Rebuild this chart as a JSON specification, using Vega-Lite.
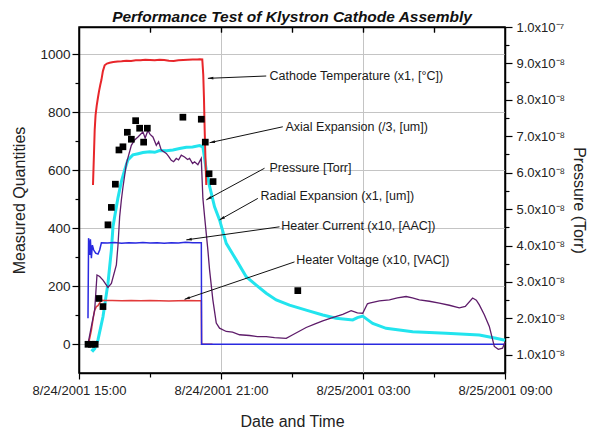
{
  "$schema": "https://vega.github.io/schema/vega-lite/v6.json",
  "width": 426,
  "height": 346,
  "autosize": {"type": "none"},
  "padding": {"left": 79, "top": 27, "right": 88, "bottom": 56},
  "background": "white",
  "title": {"text": "Performance Test of Klystron Cathode Assembly", "font": "Liberation Sans", "fontSize": 15.5, "fontWeight": "bold", "fontStyle": "italic", "color": "#111111", "anchor": "middle", "offset": -4},
  "config": {
    "view": {"stroke": "#000000", "strokeWidth": 1.5},
    "axis": {"labelFont": "Liberation Sans", "titleFont": "Liberation Sans", "titleFontWeight": "normal", "labelColor": "#222222", "titleColor": "#222222", "domainColor": "#000000", "domainWidth": 1.5, "tickColor": "#000000", "tickWidth": 1.2, "labelFlush": false, "labelOverlap": false, "gridColor": "#c4c4c4", "gridWidth": 1}
  },
  "datasets": {
    "meas": [
      {"s":"R","h":15.523,"v":-17},{"s":"R","h":15.591,"v":-22},{"s":"R","h":15.663,"v":-15},{"s":"R","h":15.802,"v":15},{"s":"R","h":16.013,"v":95},{"s":"R","h":16.224,"v":210},{"s":"R","h":16.368,"v":325},{"s":"R","h":16.435,"v":405},{"s":"R","h":16.507,"v":440},{"s":"R","h":16.646,"v":505},{"s":"R","h":16.79,"v":561},{"s":"R","h":16.929,"v":601},{"s":"R","h":17.068,"v":636},{"s":"R","h":17.279,"v":653},{"s":"R","h":17.5,"v":657},{"s":"R","h":17.702,"v":661},{"s":"R","h":17.984,"v":664},{"s":"R","h":18.2,"v":662},{"s":"R","h":18.407,"v":668},{"s":"R","h":18.7,"v":667},{"s":"R","h":18.968,"v":670},{"s":"R","h":19.25,"v":675},{"s":"R","h":19.534,"v":679},{"s":"R","h":19.8,"v":680},{"s":"R","h":20.095,"v":685},{"s":"R","h":20.234,"v":681},{"s":"R","h":20.378,"v":601},{"s":"R","h":20.517,"v":545},{"s":"R","h":20.728,"v":474},{"s":"R","h":20.939,"v":429},{"s":"R","h":21.222,"v":348},{"s":"R","h":21.644,"v":291},{"s":"R","h":22.066,"v":233},{"s":"R","h":22.488,"v":204},{"s":"R","h":22.911,"v":176},{"s":"R","h":23.333,"v":153},{"s":"R","h":23.894,"v":135},{"s":"R","h":24.599,"v":118},{"s":"R","h":25.3,"v":101},{"s":"R","h":25.865,"v":90},{"s":"R","h":26.566,"v":84},{"s":"R","h":26.764,"v":92},{"s":"R","h":26.988,"v":97},{"s":"R","h":27.187,"v":85},{"s":"R","h":27.41,"v":72},{"s":"R","h":27.976,"v":55},{"s":"R","h":29.099,"v":43},{"s":"R","h":30.509,"v":38},{"s":"R","h":31.915,"v":32},{"s":"R","h":32.619,"v":21},{"s":"R","h":33.0,"v":14},
      {"s":"T","h":15.591,"v":549},{"s":"T","h":15.63,"v":650},{"s":"T","h":15.663,"v":739},{"s":"T","h":15.7,"v":790},{"s":"T","h":15.747,"v":822},{"s":"T","h":15.8,"v":850},{"s":"T","h":15.845,"v":872},{"s":"T","h":15.9,"v":895},{"s":"T","h":15.946,"v":911},{"s":"T","h":16.01,"v":942},{"s":"T","h":16.085,"v":962},{"s":"T","h":16.18,"v":968},{"s":"T","h":16.296,"v":971},{"s":"T","h":16.45,"v":973},{"s":"T","h":16.634,"v":975},{"s":"T","h":16.8,"v":976},{"s":"T","h":17.0,"v":978},{"s":"T","h":17.2,"v":977},{"s":"T","h":17.4,"v":979},{"s":"T","h":17.6,"v":979},{"s":"T","h":17.8,"v":981},{"s":"T","h":18.0,"v":980},{"s":"T","h":18.2,"v":979},{"s":"T","h":18.4,"v":981},{"s":"T","h":18.6,"v":980},{"s":"T","h":18.8,"v":978},{"s":"T","h":19.0,"v":977},{"s":"T","h":19.2,"v":979},{"s":"T","h":19.4,"v":980},{"s":"T","h":19.6,"v":981},{"s":"T","h":19.8,"v":982},{"s":"T","h":20.0,"v":982},{"s":"T","h":20.1,"v":983},{"s":"T","h":20.209,"v":982},{"s":"T","h":20.25,"v":930},{"s":"T","h":20.28,"v":850},{"s":"T","h":20.31,"v":740},{"s":"T","h":20.34,"v":650},{"s":"T","h":20.378,"v":549},
      {"s":"V","h":15.38,"v":0},{"s":"V","h":15.45,"v":20},{"s":"V","h":15.524,"v":49},{"s":"V","h":15.6,"v":90},{"s":"V","h":15.663,"v":118},{"s":"V","h":15.735,"v":130},{"s":"V","h":15.8,"v":133},{"s":"V","h":15.85,"v":140},{"s":"V","h":15.9,"v":146},{"s":"V","h":15.946,"v":152},{"s":"V","h":16.1,"v":151},{"s":"V","h":16.4,"v":151},{"s":"V","h":16.8,"v":150},{"s":"V","h":17.2,"v":151},{"s":"V","h":17.6,"v":150},{"s":"V","h":18.0,"v":151},{"s":"V","h":18.4,"v":150},{"s":"V","h":18.8,"v":149},{"s":"V","h":19.2,"v":150},{"s":"V","h":19.6,"v":151},{"s":"V","h":20.0,"v":150},{"s":"V","h":20.169,"v":150},{"s":"V","h":20.18,"v":0},{"s":"V","h":20.64,"v":0},
      {"s":"I","h":15.38,"v":90},{"s":"I","h":15.405,"v":366},{"s":"I","h":15.452,"v":308},{"s":"I","h":15.481,"v":362},{"s":"I","h":15.523,"v":297},{"s":"I","h":15.565,"v":342},{"s":"I","h":15.621,"v":325},{"s":"I","h":15.705,"v":314},{"s":"I","h":15.802,"v":311},{"s":"I","h":15.874,"v":325},{"s":"I","h":15.946,"v":350},{"s":"I","h":16.2,"v":349},{"s":"I","h":16.5,"v":351},{"s":"I","h":16.8,"v":348},{"s":"I","h":17.1,"v":350},{"s":"I","h":17.4,"v":349},{"s":"I","h":17.7,"v":351},{"s":"I","h":18.0,"v":349},{"s":"I","h":18.3,"v":350},{"s":"I","h":18.6,"v":348},{"s":"I","h":18.9,"v":350},{"s":"I","h":19.2,"v":349},{"s":"I","h":19.5,"v":352},{"s":"I","h":19.8,"v":350},{"s":"I","h":20.169,"v":350},{"s":"I","h":20.18,"v":0},{"s":"I","h":33.0,"v":0}
    ],
    "press": [
      {"h":15.38,"p":1.3e-8},{"h":15.523,"p":1.78e-8},{"h":15.663,"p":2.23e-8},{"h":15.76,"p":3.19e-8},{"h":15.874,"p":3.15e-8},{"h":16.013,"p":3.05e-8},{"h":16.224,"p":2.85e-8},{"h":16.368,"p":2.96e-8},{"h":16.579,"p":3.47e-8},{"h":16.646,"p":4.0e-8},{"h":16.718,"p":4.79e-8},{"h":16.79,"p":5.25e-8},{"h":16.857,"p":5.6e-8},{"h":17.001,"p":6.25e-8},{"h":17.212,"p":6.75e-8},{"h":17.351,"p":6.9e-8},{"h":17.491,"p":6.98e-8},{"h":17.702,"p":7.12e-8},{"h":17.794,"p":6.95e-8},{"h":17.913,"p":7.16e-8},{"h":18.005,"p":7.05e-8},{"h":18.124,"p":6.98e-8},{"h":18.267,"p":6.75e-8},{"h":18.364,"p":6.85e-8},{"h":18.478,"p":6.62e-8},{"h":18.689,"p":6.53e-8},{"h":18.786,"p":6.45e-8},{"h":18.9,"p":6.34e-8},{"h":18.997,"p":6.3e-8},{"h":19.111,"p":6.39e-8},{"h":19.208,"p":6.35e-8},{"h":19.322,"p":6.48e-8},{"h":19.461,"p":6.43e-8},{"h":19.588,"p":6.36e-8},{"h":19.672,"p":6.39e-8},{"h":19.799,"p":6.25e-8},{"h":19.884,"p":6.3e-8},{"h":20.023,"p":6.22e-8},{"h":20.166,"p":6.39e-8},{"h":20.234,"p":5.3e-8},{"h":20.306,"p":4.8e-8},{"h":20.445,"p":3.88e-8},{"h":20.517,"p":3.33e-8},{"h":20.656,"p":2.51e-8},{"h":20.8,"p":1.87e-8},{"h":20.939,"p":1.73e-8},{"h":21.222,"p":1.64e-8},{"h":21.488,"p":1.62e-8},{"h":21.784,"p":1.55e-8},{"h":22.206,"p":1.53e-8},{"h":22.543,"p":1.5e-8},{"h":22.911,"p":1.5e-8},{"h":23.261,"p":1.47e-8},{"h":23.755,"p":1.45e-8},{"h":24.033,"p":1.55e-8},{"h":24.599,"p":1.75e-8},{"h":24.95,"p":1.84e-8},{"h":25.3,"p":1.93e-8},{"h":25.709,"p":2.02e-8},{"h":26.144,"p":2.11e-8},{"h":26.499,"p":2.21e-8},{"h":26.764,"p":2.15e-8},{"h":26.988,"p":2.14e-8},{"h":27.187,"p":2.4e-8},{"h":27.271,"p":2.42e-8},{"h":27.693,"p":2.48e-8},{"h":28.115,"p":2.51e-8},{"h":28.453,"p":2.56e-8},{"h":28.82,"p":2.6e-8},{"h":29.086,"p":2.56e-8},{"h":29.381,"p":2.51e-8},{"h":29.803,"p":2.47e-8},{"h":30.225,"p":2.42e-8},{"h":30.647,"p":2.36e-8},{"h":31.069,"p":2.29e-8},{"h":31.323,"p":2.33e-8},{"h":31.632,"p":2.56e-8},{"h":31.788,"p":2.5e-8},{"h":31.915,"p":2.37e-8},{"h":32.126,"p":2.1e-8},{"h":32.337,"p":1.78e-8},{"h":32.548,"p":1.23e-8},{"h":32.717,"p":1.15e-8},{"h":32.898,"p":1.18e-8},{"h":33.0,"p":1.35e-8}
    ],
    "axial": [
      {"h":15.38,"v":0},{"h":15.523,"v":0},{"h":15.684,"v":0},{"h":15.844,"v":158},{"h":16.013,"v":130},{"h":16.224,"v":412},{"h":16.368,"v":472},{"h":16.537,"v":552},{"h":16.688,"v":670},{"h":16.857,"v":681},{"h":17.043,"v":731},{"h":17.212,"v":707},{"h":17.393,"v":771},{"h":17.562,"v":745},{"h":17.731,"v":697},{"h":17.887,"v":745},{"h":19.39,"v":783},{"h":20.167,"v":776},{"h":20.336,"v":697},{"h":20.496,"v":588},{"h":20.665,"v":561},{"h":24.245,"v":185}
    ],
    "notes": [
      {"label":"Cathode Temperature (x1, [°C])","h":23.05,"v":925,"h1":22.911,"v1":925,"h2":20.445,"v2":917},
      {"label":"Axial Expansion (/3, [um])","h":23.725,"v":750,"h1":23.611,"v1":750,"h2":20.517,"v2":695},
      {"label":"Pressure [Torr]","h":23.05,"v":607,"h1":22.839,"v1":607,"h2":20.378,"v2":498},
      {"label":"Radial Expansion (x1, [um])","h":22.67,"v":512,"h1":22.556,"v1":503,"h2":20.939,"v2":429},
      {"label":"Heater Current (x10, [AAC])","h":23.544,"v":409,"h1":23.472,"v1":405,"h2":19.534,"v2":360},
      {"label":"Heater Voltage (x10, [VAC])","h":24.177,"v":291,"h1":24.105,"v1":284,"h2":19.461,"v2":155}
    ]
  },
  "layer": [
    {
      "data": {"name": "meas"},
      "encoding": {
        "x": {"field": "h", "type": "quantitative", "scale": {"domain": [15, 33], "nice": false, "zero": false},
          "axis": {"orient": "bottom", "values": [15, 18, 21, 24, 27, 30, 33], "title": "Date and Time", "titleFontSize": 16, "titlePadding": 16, "labelFontSize": 13, "labelPadding": 5,
            "labelExpr": "datum.value == 15 ? '8/24/2001 15:00' : datum.value == 21 ? '8/24/2001 21:00' : datum.value == 27 ? '8/25/2001 03:00' : datum.value == 33 ? '8/25/2001 09:00' : ''",
            "tickSize": {"condition": {"test": "datum.value == 15 || datum.value == 21 || datum.value == 27 || datum.value == 33", "value": 6}, "value": 4},
            "grid": true, "gridOpacity": {"condition": {"test": "datum.value == 21 || datum.value == 27", "value": 1}, "value": 0}}},
        "y": {"field": "v", "type": "quantitative", "scale": {"domain": [-99, 1094], "nice": false, "zero": false},
          "axis": {"orient": "left", "values": [0, 100, 200, 300, 400, 500, 600, 700, 800, 900, 1000], "format": "d", "title": "Measured Quantities", "titleFontSize": 16, "titlePadding": 12, "labelFontSize": 13.5, "labelPadding": 2,
            "labelExpr": "datum.value % 200 == 0 ? datum.label : ''",
            "tickSize": {"condition": {"test": "datum.value % 200 == 0", "value": 7}, "value": 4},
            "grid": true, "gridOpacity": {"condition": {"test": "datum.value % 200 == 0", "value": 1}, "value": 0}}}
      },
      "layer": [
        {"transform": [{"filter": "datum.s == 'R'"}], "mark": {"type": "line", "color": "#22e4ee", "strokeWidth": 3}},
        {"transform": [{"filter": "datum.s == 'T'"}], "mark": {"type": "line", "color": "#e8262a", "strokeWidth": 2}},
        {"transform": [{"filter": "datum.s == 'V'"}], "mark": {"type": "line", "color": "#e23a3a", "strokeWidth": 1.5}},
        {"transform": [{"filter": "datum.s == 'I'"}], "mark": {"type": "line", "color": "#2a2ae0", "strokeWidth": 1.5}}
      ]
    },
    {
      "data": {"name": "press"},
      "mark": {"type": "line", "color": "#5e1c6a", "strokeWidth": 1.3},
      "encoding": {
        "x": {"field": "h", "type": "quantitative", "scale": {"domain": [15, 33], "nice": false, "zero": false},
          "axis": {"orient": "top", "values": [18, 21, 24, 27, 30], "title": null, "labels": false, "ticks": true, "grid": false, "tickSize": -5}},
        "y": {"field": "p", "type": "quantitative", "scale": {"domain": [0.5e-8, 1e-7], "nice": false, "zero": false},
          "axis": {"orient": "right", "values": [1e-8, 1.5e-8, 2e-8, 2.5e-8, 3e-8, 3.5e-8, 4e-8, 4.5e-8, 5e-8, 5.5e-8, 6e-8, 6.5e-8, 7e-8, 7.5e-8, 8e-8, 8.5e-8, 9e-8, 9.5e-8, 1e-7],
            "title": "Pressure (Torr)", "titleFontSize": 16, "titlePadding": 6, "labelFontSize": 13, "labelPadding": 4, "grid": false,
            "labelExpr": "datum.value > 9.9e-8 ? '1.0x10⁻⁷' : (abs(datum.value * 1e8 - round(datum.value * 1e8)) < 0.01 ? format(datum.value * 1e8, '.1f') + 'x10⁻⁸' : '')",
            "tickSize": {"condition": {"test": "abs(datum.value * 1e8 - round(datum.value * 1e8)) < 0.01", "value": 7}, "value": 4}}}
      }
    },
    {
      "data": {"name": "axial"},
      "mark": {"type": "square", "color": "#000000", "filled": true, "opacity": 1, "size": 45},
      "encoding": {
        "x": {"field": "h", "type": "quantitative", "scale": {"domain": [15, 33], "nice": false, "zero": false},
          "axis": {"orient": "top", "values": [18, 21, 24, 27, 30], "title": null, "labels": false, "domain": false, "grid": false, "ticks": true, "tickSize": 5, "offset": -5}},
        "y": {"field": "v", "type": "quantitative", "scale": {"domain": [-99, 1094], "nice": false, "zero": false}, "axis": null}
      }
    },
    {
      "data": {"name": "notes"},
      "layer": [
        {"mark": {"type": "rule", "color": "#111111", "strokeWidth": 1},
          "encoding": {
            "x": {"field": "h1", "type": "quantitative", "scale": {"domain": [15, 33], "nice": false, "zero": false}, "axis": null},
            "y": {"field": "v1", "type": "quantitative", "scale": {"domain": [-99, 1094], "nice": false, "zero": false}, "axis": null},
            "x2": {"field": "h2"},
            "y2": {"field": "v2"}
          }},
        {"transform": [{"calculate": "atan2((datum.h2 - datum.h1) * 23.69, (datum.v2 - datum.v1) * 0.29) * 180 / PI", "as": "ang"}],
          "mark": {"type": "point", "shape": "M0,0L-0.5,2L0.5,2Z", "filled": true, "color": "#111111", "opacity": 1, "size": 30},
          "encoding": {
            "x": {"field": "h2", "type": "quantitative", "scale": {"domain": [15, 33], "nice": false, "zero": false}, "axis": null},
            "y": {"field": "v2", "type": "quantitative", "scale": {"domain": [-99, 1094], "nice": false, "zero": false}, "axis": null},
            "angle": {"field": "ang", "type": "quantitative", "scale": null}
          }},
        {"mark": {"type": "text", "align": "left", "baseline": "middle", "font": "Liberation Sans", "fontSize": 12.5, "color": "#1a1a1a"},
          "encoding": {
            "x": {"field": "h", "type": "quantitative", "scale": {"domain": [15, 33], "nice": false, "zero": false}, "axis": null},
            "y": {"field": "v", "type": "quantitative", "scale": {"domain": [-99, 1094], "nice": false, "zero": false}, "axis": null},
            "text": {"field": "label"}
          }}
      ]
    }
  ],
  "resolve": {"scale": {"y": "independent"}, "axis": {"x": "independent", "y": "independent"}}
}
